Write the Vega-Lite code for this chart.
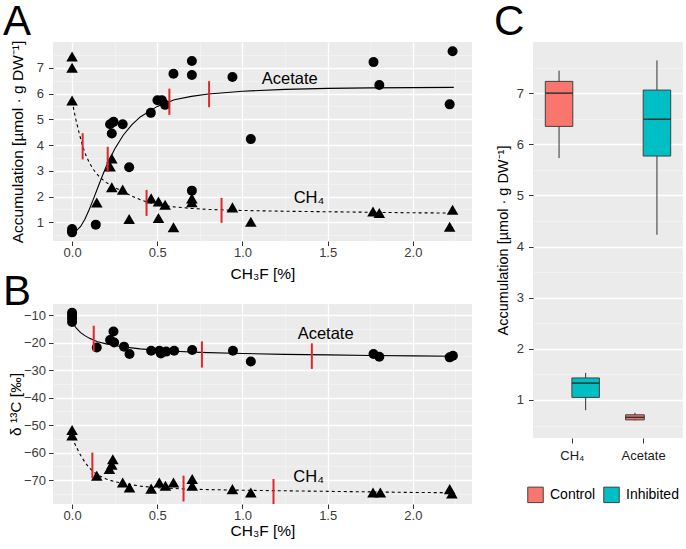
{
  "$schema": "https://vega.github.io/schema/vega-lite/v6.json",
  "autosize": {"type": "pad"},
  "padding": {"left": 3, "top": 1, "right": 0, "bottom": 0},
  "background": "white",
  "spacing": 22,
  "config": {
    "font": "Liberation Sans",
    "view": {"fill": "#EBEBEB", "stroke": null},
    "axis": {
      "domain": false,
      "tickColor": "#333333",
      "tickSize": 4.5,
      "tickWidth": 1,
      "labelFont": "Liberation Sans",
      "labelFontSize": 13,
      "labelColor": "#3A3A3A",
      "titleFont": "Liberation Sans",
      "titleFontSize": 15.5,
      "titleFontWeight": "normal",
      "titleColor": "#000000",
      "gridColor": "#FFFFFF"
    },
    "title": {"fontSize": 42, "font": "Liberation Sans", "fontWeight": "normal", "anchor": "start", "frame": "group", "baseline": "alphabetic", "color": "#000000"}
  },
  "resolve": {"scale": {"x": "independent", "y": "independent"}, "legend": {"color": "independent"}},
  "datasets": {
    "accum": [
      {"x": 0, "y": 0.61, "gas": "Acetate"}, {"x": 0, "y": 0.66, "gas": "Acetate"}, {"x": 0, "y": 0.74, "gas": "Acetate"},
      {"x": 0.139, "y": 0.91, "gas": "Acetate"}, {"x": 0.223, "y": 4.81, "gas": "Acetate"}, {"x": 0.243, "y": 4.9, "gas": "Acetate"},
      {"x": 0.233, "y": 4.45, "gas": "Acetate"}, {"x": 0.297, "y": 4.81, "gas": "Acetate"}, {"x": 0.335, "y": 3.14, "gas": "Acetate"},
      {"x": 0.462, "y": 5.25, "gas": "Acetate"}, {"x": 0.501, "y": 5.74, "gas": "Acetate"}, {"x": 0.527, "y": 5.74, "gas": "Acetate"},
      {"x": 0.546, "y": 5.56, "gas": "Acetate"}, {"x": 0.595, "y": 6.77, "gas": "Acetate"}, {"x": 0.703, "y": 7.26, "gas": "Acetate"},
      {"x": 0.703, "y": 6.72, "gas": "Acetate"}, {"x": 0.703, "y": 2.23, "gas": "Acetate"}, {"x": 0.941, "y": 6.64, "gas": "Acetate"},
      {"x": 1.049, "y": 4.23, "gas": "Acetate"}, {"x": 1.769, "y": 7.22, "gas": "Acetate"}, {"x": 1.803, "y": 6.33, "gas": "Acetate"},
      {"x": 2.233, "y": 7.64, "gas": "Acetate"}, {"x": 2.216, "y": 5.58, "gas": "Acetate"},
      {"x": 0, "y": 7.44, "gas": "CH4"}, {"x": 0, "y": 7.0, "gas": "CH4"}, {"x": 0, "y": 5.73, "gas": "CH4"},
      {"x": 0.145, "y": 1.77, "gas": "CH4"}, {"x": 0.233, "y": 3.48, "gas": "CH4"}, {"x": 0.223, "y": 3.17, "gas": "CH4"},
      {"x": 0.233, "y": 2.36, "gas": "CH4"}, {"x": 0.297, "y": 2.27, "gas": "CH4"}, {"x": 0.335, "y": 1.13, "gas": "CH4"},
      {"x": 0.464, "y": 1.93, "gas": "CH4"}, {"x": 0.507, "y": 1.81, "gas": "CH4"}, {"x": 0.546, "y": 1.68, "gas": "CH4"},
      {"x": 0.507, "y": 1.17, "gas": "CH4"}, {"x": 0.595, "y": 0.81, "gas": "CH4"}, {"x": 0.703, "y": 1.93, "gas": "CH4"},
      {"x": 0.703, "y": 1.78, "gas": "CH4"}, {"x": 0.941, "y": 1.58, "gas": "CH4"}, {"x": 1.049, "y": 1.02, "gas": "CH4"},
      {"x": 1.766, "y": 1.42, "gas": "CH4"}, {"x": 1.803, "y": 1.36, "gas": "CH4"}, {"x": 2.233, "y": 1.49, "gas": "CH4"},
      {"x": 2.216, "y": 0.83, "gas": "CH4"}
    ],
    "accumFit": [
      {"x": 0, "y": 0.62, "gas": "Acetate"}, {"x": 0.025, "y": 0.67, "gas": "Acetate"}, {"x": 0.05, "y": 0.84, "gas": "Acetate"},
      {"x": 0.075, "y": 1.12, "gas": "Acetate"}, {"x": 0.1, "y": 1.49, "gas": "Acetate"}, {"x": 0.125, "y": 1.9, "gas": "Acetate"},
      {"x": 0.15, "y": 2.33, "gas": "Acetate"}, {"x": 0.175, "y": 2.76, "gas": "Acetate"}, {"x": 0.2, "y": 3.17, "gas": "Acetate"},
      {"x": 0.25, "y": 3.85, "gas": "Acetate"}, {"x": 0.3, "y": 4.38, "gas": "Acetate"}, {"x": 0.35, "y": 4.78, "gas": "Acetate"},
      {"x": 0.4, "y": 5.09, "gas": "Acetate"}, {"x": 0.5, "y": 5.5, "gas": "Acetate"}, {"x": 0.6, "y": 5.76, "gas": "Acetate"},
      {"x": 0.7, "y": 5.89, "gas": "Acetate"}, {"x": 0.8, "y": 5.98, "gas": "Acetate"}, {"x": 1.0, "y": 6.09, "gas": "Acetate"},
      {"x": 1.25, "y": 6.16, "gas": "Acetate"}, {"x": 1.5, "y": 6.2, "gas": "Acetate"}, {"x": 1.75, "y": 6.22, "gas": "Acetate"},
      {"x": 2.0, "y": 6.23, "gas": "Acetate"}, {"x": 2.24, "y": 6.24, "gas": "Acetate"},
      {"x": 0, "y": 5.71, "gas": "CH4"}, {"x": 0.02, "y": 5.05, "gas": "CH4"}, {"x": 0.04, "y": 4.5, "gas": "CH4"},
      {"x": 0.06, "y": 4.0, "gas": "CH4"}, {"x": 0.08, "y": 3.62, "gas": "CH4"}, {"x": 0.1, "y": 3.33, "gas": "CH4"},
      {"x": 0.125, "y": 3.05, "gas": "CH4"}, {"x": 0.15, "y": 2.84, "gas": "CH4"}, {"x": 0.175, "y": 2.68, "gas": "CH4"},
      {"x": 0.2, "y": 2.55, "gas": "CH4"}, {"x": 0.25, "y": 2.35, "gas": "CH4"}, {"x": 0.3, "y": 2.19, "gas": "CH4"},
      {"x": 0.35, "y": 2.02, "gas": "CH4"}, {"x": 0.4, "y": 1.88, "gas": "CH4"}, {"x": 0.45, "y": 1.77, "gas": "CH4"},
      {"x": 0.5, "y": 1.7, "gas": "CH4"}, {"x": 0.55, "y": 1.64, "gas": "CH4"}, {"x": 0.6, "y": 1.6, "gas": "CH4"},
      {"x": 0.7, "y": 1.54, "gas": "CH4"}, {"x": 0.8, "y": 1.5, "gas": "CH4"}, {"x": 1.0, "y": 1.46, "gas": "CH4"},
      {"x": 1.25, "y": 1.43, "gas": "CH4"}, {"x": 1.5, "y": 1.41, "gas": "CH4"}, {"x": 1.75, "y": 1.39, "gas": "CH4"},
      {"x": 2.0, "y": 1.37, "gas": "CH4"}, {"x": 2.24, "y": 1.36, "gas": "CH4"}
    ],
    "accumMark": [
      {"x": 0.209, "y": 2.95, "y2": 3.93, "gas": "Acetate"}, {"x": 0.571, "y": 5.17, "y2": 6.19, "gas": "Acetate"},
      {"x": 0.804, "y": 5.47, "y2": 6.48, "gas": "Acetate"}, {"x": 0.062, "y": 3.44, "y2": 4.46, "gas": "CH4"},
      {"x": 0.437, "y": 1.25, "y2": 2.26, "gas": "CH4"}, {"x": 0.877, "y": 0.98, "y2": 1.95, "gas": "CH4"}
    ],
    "accumLabel": [
      {"x": 1.277, "y": 6.56, "label": "Acetate"}, {"x": 1.39, "y": 1.93, "label": "CH₄"}
    ],
    "d13c": [
      {"x": 0, "y": -9.2, "gas": "Acetate"}, {"x": 0, "y": -10.2, "gas": "Acetate"}, {"x": 0, "y": -11.3, "gas": "Acetate"},
      {"x": 0, "y": -12.5, "gas": "Acetate"}, {"x": 0.145, "y": -21.8, "gas": "Acetate"}, {"x": 0.223, "y": -19.1, "gas": "Acetate"},
      {"x": 0.243, "y": -16.0, "gas": "Acetate"}, {"x": 0.247, "y": -20.0, "gas": "Acetate"}, {"x": 0.305, "y": -21.5, "gas": "Acetate"},
      {"x": 0.337, "y": -24.2, "gas": "Acetate"}, {"x": 0.464, "y": -23.0, "gas": "Acetate"}, {"x": 0.513, "y": -23.0, "gas": "Acetate"},
      {"x": 0.521, "y": -24.0, "gas": "Acetate"}, {"x": 0.552, "y": -23.3, "gas": "Acetate"}, {"x": 0.599, "y": -23.0, "gas": "Acetate"},
      {"x": 0.705, "y": -22.7, "gas": "Acetate"}, {"x": 0.944, "y": -23.0, "gas": "Acetate"}, {"x": 1.049, "y": -26.9, "gas": "Acetate"},
      {"x": 1.769, "y": -24.2, "gas": "Acetate"}, {"x": 1.803, "y": -25.2, "gas": "Acetate"}, {"x": 2.216, "y": -25.4, "gas": "Acetate"},
      {"x": 2.235, "y": -24.8, "gas": "Acetate"},
      {"x": 0, "y": -51.8, "gas": "CH4"}, {"x": 0, "y": -53.8, "gas": "CH4"}, {"x": 0.145, "y": -68.4, "gas": "CH4"},
      {"x": 0.239, "y": -62.4, "gas": "CH4"}, {"x": 0.233, "y": -64.4, "gas": "CH4"}, {"x": 0.219, "y": -66.0, "gas": "CH4"},
      {"x": 0.297, "y": -70.9, "gas": "CH4"}, {"x": 0.337, "y": -72.7, "gas": "CH4"}, {"x": 0.464, "y": -73.1, "gas": "CH4"},
      {"x": 0.512, "y": -70.9, "gas": "CH4"}, {"x": 0.548, "y": -72.1, "gas": "CH4"}, {"x": 0.595, "y": -70.9, "gas": "CH4"},
      {"x": 0.705, "y": -69.6, "gas": "CH4"}, {"x": 0.705, "y": -72.1, "gas": "CH4"}, {"x": 0.941, "y": -73.3, "gas": "CH4"},
      {"x": 1.049, "y": -74.5, "gas": "CH4"}, {"x": 1.766, "y": -74.5, "gas": "CH4"}, {"x": 1.809, "y": -74.5, "gas": "CH4"},
      {"x": 2.216, "y": -73.3, "gas": "CH4"}, {"x": 2.229, "y": -74.9, "gas": "CH4"}
    ],
    "d13cFit": [
      {"x": 0, "y": -12.6, "gas": "Acetate"}, {"x": 0.025, "y": -14.8, "gas": "Acetate"}, {"x": 0.05, "y": -16.4, "gas": "Acetate"},
      {"x": 0.075, "y": -17.5, "gas": "Acetate"}, {"x": 0.1, "y": -18.4, "gas": "Acetate"}, {"x": 0.125, "y": -19.1, "gas": "Acetate"},
      {"x": 0.15, "y": -19.7, "gas": "Acetate"}, {"x": 0.2, "y": -20.5, "gas": "Acetate"}, {"x": 0.25, "y": -21.1, "gas": "Acetate"},
      {"x": 0.3, "y": -21.6, "gas": "Acetate"}, {"x": 0.4, "y": -22.3, "gas": "Acetate"}, {"x": 0.5, "y": -22.8, "gas": "Acetate"},
      {"x": 0.6, "y": -23.2, "gas": "Acetate"}, {"x": 0.75, "y": -23.6, "gas": "Acetate"}, {"x": 1.0, "y": -24.0, "gas": "Acetate"},
      {"x": 1.25, "y": -24.3, "gas": "Acetate"}, {"x": 1.5, "y": -24.5, "gas": "Acetate"}, {"x": 1.75, "y": -24.7, "gas": "Acetate"},
      {"x": 2.0, "y": -24.85, "gas": "Acetate"}, {"x": 2.24, "y": -25.0, "gas": "Acetate"},
      {"x": 0, "y": -54.5, "gas": "CH4"}, {"x": 0.025, "y": -58.0, "gas": "CH4"}, {"x": 0.05, "y": -61.0, "gas": "CH4"},
      {"x": 0.075, "y": -63.5, "gas": "CH4"}, {"x": 0.1, "y": -65.5, "gas": "CH4"}, {"x": 0.125, "y": -67.0, "gas": "CH4"},
      {"x": 0.15, "y": -68.1, "gas": "CH4"}, {"x": 0.2, "y": -69.6, "gas": "CH4"}, {"x": 0.25, "y": -70.6, "gas": "CH4"},
      {"x": 0.3, "y": -71.2, "gas": "CH4"}, {"x": 0.4, "y": -72.2, "gas": "CH4"}, {"x": 0.5, "y": -72.8, "gas": "CH4"},
      {"x": 0.65, "y": -73.2, "gas": "CH4"}, {"x": 0.75, "y": -73.4, "gas": "CH4"}, {"x": 1.0, "y": -73.7, "gas": "CH4"},
      {"x": 1.25, "y": -73.9, "gas": "CH4"}, {"x": 1.5, "y": -74.1, "gas": "CH4"}, {"x": 1.75, "y": -74.3, "gas": "CH4"},
      {"x": 2.0, "y": -74.5, "gas": "CH4"}, {"x": 2.24, "y": -74.6, "gas": "CH4"}
    ],
    "d13cMark": [
      {"x": 0.127, "y": -23.2, "y2": -13.9, "gas": "Acetate"}, {"x": 0.762, "y": -29.1, "y2": -19.6, "gas": "Acetate"},
      {"x": 1.407, "y": -29.6, "y2": -20.3, "gas": "Acetate"}, {"x": 0.119, "y": -69.3, "y2": -60.0, "gas": "CH4"},
      {"x": 0.654, "y": -77.8, "y2": -68.4, "gas": "CH4"}, {"x": 1.182, "y": -78.7, "y2": -69.6, "gas": "CH4"}
    ],
    "d13cLabel": [
      {"x": 1.488, "y": -16.8, "label": "Acetate"}, {"x": 1.388, "y": -68.9, "label": "CH₄"}
    ],
    "box": [
      {"gas": "CH₄", "group": "Control", "min": 5.73, "q1": 6.35, "median": 7.0, "q3": 7.23, "max": 7.44},
      {"gas": "CH₄", "group": "Inhibited", "min": 0.8, "q1": 1.05, "median": 1.33, "q3": 1.43, "max": 1.53},
      {"gas": "Acetate", "group": "Control", "min": 0.6, "q1": 0.61, "median": 0.66, "q3": 0.71, "max": 0.75},
      {"gas": "Acetate", "group": "Inhibited", "min": 4.23, "q1": 5.77, "median": 6.49, "q3": 7.06, "max": 7.64}
    ]
  },
  "hconcat": [
    {
      "bounds": "flush",
      "spacing": 63,
      "resolve": {"scale": {"x": "independent", "y": "independent"}},
      "vconcat": [
        {
          "width": 419,
          "height": 199,
          "title": {"text": "A", "dx": -50, "offset": -4},
          "encoding": {
            "x": {
              "field": "x", "type": "quantitative",
              "scale": {"domain": [-0.112, 2.347], "nice": false, "zero": false},
              "axis": {
                "title": "CH₃F [%]",
                "values": [0, 0.25, 0.5, 0.75, 1, 1.25, 1.5, 1.75, 2, 2.25],
                "labelExpr": "datum.value % 0.5 === 0 ? format(datum.value, '.1f') : ''",
                "gridWidth": {"condition": {"test": "datum.value % 0.5 === 0", "value": 1.3}, "value": 0.7},
                "gridColor": {"condition": {"test": "datum.value % 0.5 === 0", "value": "#FFFFFF"}, "value": "#F5F5F5"},
                "tickOpacity": {"condition": {"test": "datum.value % 0.5 === 0", "value": 1}, "value": 0},
                "labelPadding": 1,
                "titlePadding": 7
              }
            },
            "y": {
              "field": "y", "type": "quantitative",
              "scale": {"domain": [0.275, 8.0], "nice": false, "zero": false},
              "axis": {
                "title": "Accumulation [µmol · g DW⁻¹]",
                "values": [0.5, 1, 1.5, 2, 2.5, 3, 3.5, 4, 4.5, 5, 5.5, 6, 6.5, 7, 7.5],
                "labelExpr": "datum.value % 1 === 0 ? format(datum.value, 'd') : ''",
                "gridWidth": {"condition": {"test": "datum.value % 1 === 0", "value": 1.3}, "value": 0.7},
                "gridColor": {"condition": {"test": "datum.value % 1 === 0", "value": "#FFFFFF"}, "value": "#F5F5F5"},
                "tickOpacity": {"condition": {"test": "datum.value % 1 === 0", "value": 1}, "value": 0},
                "labelPadding": 5,
                "titlePadding": 10.5
              }
            }
          },
          "layer": [
            {
              "data": {"name": "accum"},
              "mark": {"type": "point", "filled": true, "opacity": 1, "color": "#000000", "strokeWidth": 0},
              "encoding": {
                "shape": {"field": "gas", "type": "nominal", "scale": {"domain": ["Acetate", "CH4"], "range": ["circle", "triangle-up"]}, "legend": null},
                "size": {"condition": {"test": "datum.gas === 'CH4'", "value": 135}, "value": 100}
              }
            },
            {
              "data": {"name": "accumFit"},
              "transform": [{"filter": "datum.gas === 'Acetate'"}],
              "mark": {"type": "line", "color": "#000000", "strokeWidth": 1.1}
            },
            {
              "data": {"name": "accumFit"},
              "transform": [{"filter": "datum.gas === 'CH4'"}],
              "mark": {"type": "line", "color": "#000000", "strokeWidth": 1.1, "strokeDash": [3, 3]}
            },
            {
              "data": {"name": "accumMark"},
              "mark": {"type": "rule", "color": "#E3262B", "strokeWidth": 2},
              "encoding": {"y2": {"field": "y2"}}
            },
            {
              "data": {"name": "accumLabel"},
              "mark": {"type": "text", "fontSize": 16.5, "font": "Liberation Sans", "color": "#000000", "align": "center", "baseline": "middle"},
              "encoding": {"text": {"field": "label"}}
            }
          ]
        },
        {
          "width": 419,
          "height": 200,
          "title": {"text": "B", "dx": -50, "offset": -10},
          "encoding": {
            "x": {
              "field": "x", "type": "quantitative",
              "scale": {"domain": [-0.112, 2.347], "nice": false, "zero": false},
              "axis": {
                "title": "CH₃F [%]",
                "values": [0, 0.25, 0.5, 0.75, 1, 1.25, 1.5, 1.75, 2, 2.25],
                "labelExpr": "datum.value % 0.5 === 0 ? format(datum.value, '.1f') : ''",
                "gridWidth": {"condition": {"test": "datum.value % 0.5 === 0", "value": 1.3}, "value": 0.7},
                "gridColor": {"condition": {"test": "datum.value % 0.5 === 0", "value": "#FFFFFF"}, "value": "#F5F5F5"},
                "tickOpacity": {"condition": {"test": "datum.value % 0.5 === 0", "value": 1}, "value": 0},
                "labelPadding": 1,
                "titlePadding": 1
              }
            },
            "y": {
              "field": "y", "type": "quantitative",
              "scale": {"domain": [-78.7, -6.0], "nice": false, "zero": false},
              "axis": {
                "title": "δ ¹³C [‰]",
                "values": [-75, -70, -65, -60, -55, -50, -45, -40, -35, -30, -25, -20, -15, -10],
                "labelExpr": "datum.value % 10 === 0 ? format(datum.value, 'd') : ''",
                "gridWidth": {"condition": {"test": "datum.value % 10 === 0", "value": 1.3}, "value": 0.7},
                "gridColor": {"condition": {"test": "datum.value % 10 === 0", "value": "#FFFFFF"}, "value": "#F5F5F5"},
                "tickOpacity": {"condition": {"test": "datum.value % 10 === 0", "value": 1}, "value": 0},
                "labelPadding": 3,
                "titlePadding": 0
              }
            }
          },
          "layer": [
            {
              "data": {"name": "d13c"},
              "mark": {"type": "point", "filled": true, "opacity": 1, "color": "#000000", "strokeWidth": 0},
              "encoding": {
                "shape": {"field": "gas", "type": "nominal", "scale": {"domain": ["Acetate", "CH4"], "range": ["circle", "triangle-up"]}, "legend": null},
                "size": {"condition": {"test": "datum.gas === 'CH4'", "value": 135}, "value": 100}
              }
            },
            {
              "data": {"name": "d13cFit"},
              "transform": [{"filter": "datum.gas === 'Acetate'"}],
              "mark": {"type": "line", "color": "#000000", "strokeWidth": 1.1}
            },
            {
              "data": {"name": "d13cFit"},
              "transform": [{"filter": "datum.gas === 'CH4'"}],
              "mark": {"type": "line", "color": "#000000", "strokeWidth": 1.1, "strokeDash": [3, 3]}
            },
            {
              "data": {"name": "d13cMark"},
              "mark": {"type": "rule", "color": "#E3262B", "strokeWidth": 2},
              "encoding": {"y2": {"field": "y2"}}
            },
            {
              "data": {"name": "d13cLabel"},
              "mark": {"type": "text", "fontSize": 16.5, "font": "Liberation Sans", "color": "#000000", "align": "center", "baseline": "middle"},
              "encoding": {"text": {"field": "label"}}
            }
          ]
        }
      ]
    },
    {
      "width": 150,
      "height": 396,
      "title": {"text": "C", "dx": -39, "offset": -2},
      "data": {"name": "box"},
      "encoding": {
        "x": {
          "field": "gas", "type": "nominal",
          "scale": {"domain": ["CH₄", "Acetate"], "paddingInner": 0, "paddingOuter": 0.052},
          "axis": {"title": null, "labelAngle": 0, "bandPosition": 0.5, "labelPadding": 6, "tickSize": 5, "labelColor": "#1A1A1A", "gridWidth": 1.3}
        },
        "y": {
          "field": "min", "type": "quantitative",
          "scale": {"domain": [0.256, 8.0], "nice": false, "zero": false},
          "axis": {
            "title": "Accumulation [µmol · g DW⁻¹]",
            "titleFontSize": 14.5,
            "values": [0.5, 1, 1.5, 2, 2.5, 3, 3.5, 4, 4.5, 5, 5.5, 6, 6.5, 7, 7.5],
            "labelExpr": "datum.value % 1 === 0 ? format(datum.value, 'd') : ''",
            "gridWidth": {"condition": {"test": "datum.value % 1 === 0", "value": 1.3}, "value": 0.7},
            "gridColor": {"condition": {"test": "datum.value % 1 === 0", "value": "#FFFFFF"}, "value": "#F5F5F5"},
            "tickOpacity": {"condition": {"test": "datum.value % 1 === 0", "value": 1}, "value": 0},
            "labelPadding": 5,
            "titlePadding": 6
          }
        }
      },
      "layer": [
        {
          "transform": [{"filter": "!(datum.gas === 'Acetate' && datum.group === 'Control')"}],
          "mark": {"type": "rule", "color": "#333333", "strokeWidth": 1},
          "encoding": {
            "xOffset": {"field": "group", "type": "nominal", "scale": {"domain": ["Control", "Inhibited"], "paddingInner": 0, "paddingOuter": 0.34}},
            "y2": {"field": "max"}
          }
        },
        {
          "transform": [{"filter": "!(datum.gas === 'Acetate' && datum.group === 'Control')"}],
          "mark": {"type": "bar", "stroke": "#404040", "strokeWidth": 1, "size": 27.5},
          "encoding": {
            "xOffset": {"field": "group", "type": "nominal"},
            "y": {"field": "q1", "type": "quantitative"},
            "y2": {"field": "q3"},
            "color": {
              "field": "group", "type": "nominal",
              "scale": {"domain": ["Control", "Inhibited"], "range": ["#F8766D", "#00BFC4"]},
              "legend": {
                "orient": "none", "legendX": -6, "legendY": 444, "direction": "horizontal", "title": null,
                "symbolType": "square", "symbolSize": 240, "symbolStrokeColor": "#404040", "symbolStrokeWidth": 1,
                "symbolOpacity": 1, "labelFontSize": 14, "labelColor": "#000000", "labelFont": "Liberation Sans",
                "columnPadding": 5, "labelOffset": 6, "padding": 0
              }
            }
          }
        },
        {
          "transform": [{"filter": "!(datum.gas === 'Acetate' && datum.group === 'Control')"}],
          "mark": {"type": "tick", "color": "#333333", "thickness": 1.5, "size": 27.5, "opacity": 1},
          "encoding": {
            "xOffset": {"field": "group", "type": "nominal"},
            "y": {"field": "median", "type": "quantitative"}
          }
        },
        {
          "transform": [{"filter": "datum.gas === 'Acetate' && datum.group === 'Control'"}],
          "mark": {"type": "rule", "color": "#333333", "strokeWidth": 1, "xOffset": -8.7},
          "encoding": {"y2": {"field": "max"}}
        },
        {
          "transform": [{"filter": "datum.gas === 'Acetate' && datum.group === 'Control'"}],
          "mark": {"type": "bar", "stroke": "#404040", "strokeWidth": 1, "size": 18.7, "xOffset": -8.7},
          "encoding": {
            "y": {"field": "q1", "type": "quantitative"},
            "y2": {"field": "q3"},
            "color": {"field": "group", "type": "nominal"}
          }
        },
        {
          "transform": [{"filter": "datum.gas === 'Acetate' && datum.group === 'Control'"}],
          "mark": {"type": "tick", "color": "#333333", "thickness": 1.5, "size": 18.7, "xOffset": -8.7, "opacity": 1},
          "encoding": {
            "y": {"field": "median", "type": "quantitative"}
          }
        }
      ]
    }
  ]
}
